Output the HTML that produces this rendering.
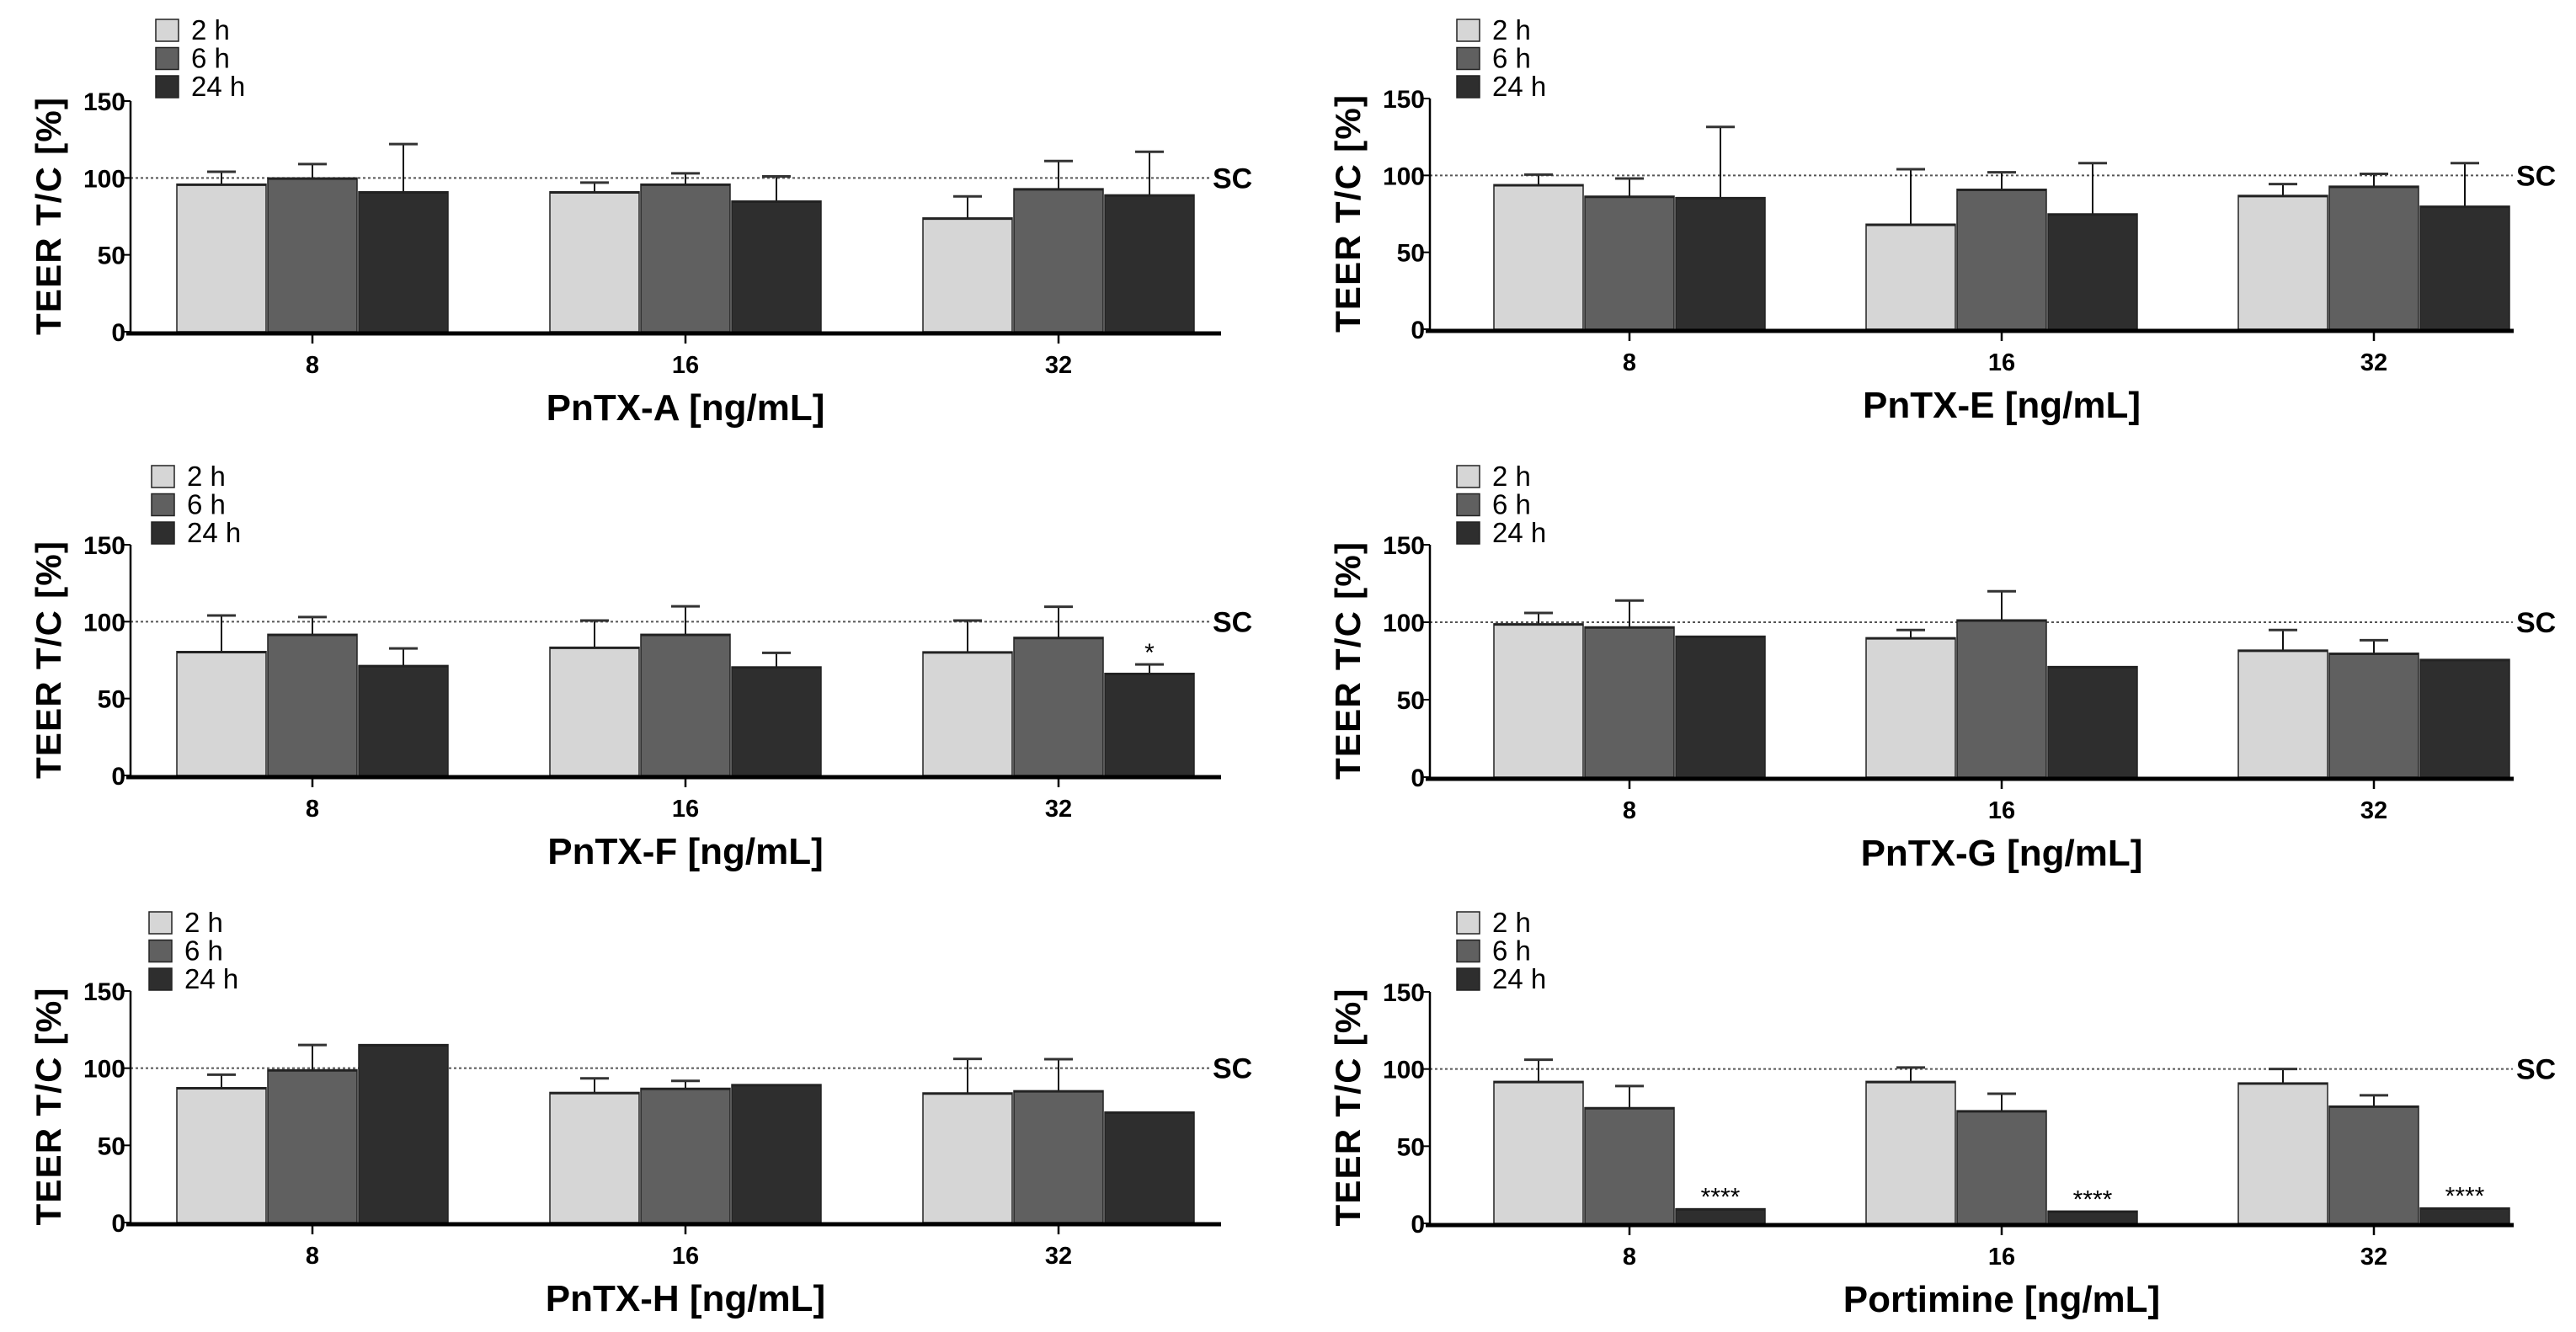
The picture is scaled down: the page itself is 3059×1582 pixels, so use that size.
<!DOCTYPE html>
<html><head><meta charset="utf-8"><style>
html,body{margin:0;padding:0;background:#fff;}
svg{display:block;}
</style></head><body>
<svg id="fig" width="3059" height="1582" viewBox="0 0 3059 1582" xmlns="http://www.w3.org/2000/svg"></svg>
<script>
// ---- data ----
const categories = ["8","16","32"];
const seriesNames = ["2 h","6 h","24 h"];
const yTicks = [0,50,100,150];
const panelTitles = ["PnTX-A [ng/mL]","PnTX-E [ng/mL]","PnTX-F [ng/mL]","PnTX-G [ng/mL]","PnTX-H [ng/mL]","Portimine [ng/mL]"];
const valsA = [[96,100,91],[91,96,85],[74,93,89]];
const errsA = [[104,109,122],[97,103,101],[88,111,117]];
const valsE = [[94,86.5,85.6],[68.3,91,75],[87,93,80]];
const errsE = [[100.5,98,131.5],[104,102,108],[94.4,101,108]];
const valsF = [[80.6,91.8,71.5],[83.4,91.8,70.6],[80.4,89.8,66.4]];
const errsF = [[104,103,82.6],[100.7,110,79.7],[100.7,109.7,72.2]];
const valsG = [[99,97,91],[90,101.5,71.4],[82,80,76]];
const errsG = [[106,114,null],[95,120,null],[95,88.4,null]];
const valsH = [[87.4,99,115.3],[84.3,87,89.4],[84,85.4,71.6]];
const errsH = [[95.8,115,null],[93.4,91.8,null],[106,105.8,null]];
const valsP = [[92,75,9.5],[92,73,8],[91,76,10]];
const errsP = [[106,89,null],[101,84,null],[100,83,null]];
const sigF = [["","",""],["","",""],["","","*"]];
const sigP = [["","","****"],["","","****"],["","","****"]];
const sigNone = [["","",""],["","",""],["","",""]];

const colors = ["#d6d6d6","#606060","#2e2e2e"];
const NS = "http://www.w3.org/2000/svg";
const svg = document.getElementById("fig");
function mk(tag, attrs, parent){const e=document.createElementNS(NS,tag);for(const k in attrs)e.setAttribute(k,attrs[k]);(parent||svg).appendChild(e);return e;}
function ctext(x,y,str,size,bold,anchor,parent){
  const t = mk("text",{x:x,y:y,"font-size":size,"font-weight":bold?"bold":"normal","text-anchor":anchor||"start","font-family":"Liberation Sans, sans-serif"},parent);
  t.textContent = str;
  return t;
}

const panels = [
 {vals:valsA,errs:errsA,sig:sigNone,ax:155,xend:1450,top:0,y0:394,y150:120,titleIdx:0,leg:185,ylab:72,sc:1440,t0:371,sp:443},
 {vals:valsE,errs:errsE,sig:sigNone,ax:1698,xend:2985,top:0,y0:391,y150:117,titleIdx:1,leg:1730,ylab:1615,sc:2988,t0:1935,sp:442},
 {vals:valsF,errs:errsF,sig:sigF,ax:155,xend:1450,top:530,y0:921,y150:647,titleIdx:2,leg:180,ylab:72,sc:1440,t0:371,sp:443},
 {vals:valsG,errs:errsG,sig:sigNone,ax:1698,xend:2985,top:530,y0:923,y150:647,titleIdx:3,leg:1730,ylab:1615,sc:2988,t0:1935,sp:442},
 {vals:valsH,errs:errsH,sig:sigNone,ax:155,xend:1450,top:1060,y0:1452,y150:1177,titleIdx:4,leg:177,ylab:72,sc:1440,t0:371,sp:443},
 {vals:valsP,errs:errsP,sig:sigP,ax:1698,xend:2985,top:1060,y0:1453,y150:1178,titleIdx:5,leg:1730,ylab:1615,sc:2988,t0:1935,sp:442}
];

panels.forEach((p,pi)=>{
  const g = mk("g",{});
  
  
  const yS = v => p.y0 - (p.y0-p.y150)*v/150;
  const xS = i => p.t0 + i*p.sp;
  const bw = 106, off = 108;
  const ref = mk("line",{x1:p.ax,x2:p.sc-4,y1:yS(100),y2:yS(100),stroke:"#555","stroke-width":2,"stroke-dasharray":"3 3"},g);
  
  
  const sc = ctext(p.sc,yS(100)+12,"SC",34,true,"start",g);
  
  
  categories.forEach((c,ci)=>{
    seriesNames.forEach((s,si)=>{
      const v = p.vals[ci][si];
      const cx = xS(ci) + (si-1)*off;
      const yt = yS(v);
      const e = p.errs[ci][si];
      if(e!==null && e!==undefined){
        const el = mk("line",{x1:cx,x2:cx,y1:yt,y2:yS(e),stroke:"#111","stroke-width":2},g);
        
        
        const cap = mk("line",{x1:cx-17,x2:cx+17,y1:yS(e),y2:yS(e),stroke:"#333","stroke-width":3},g);
        
        
      }
      const r = mk("rect",{x:cx-bw/2,y:yt,width:bw,height:p.y0-yt,fill:colors[si],stroke:"#222","stroke-width":1.5},g);
      
      
      mk("line",{x1:cx-bw/2,x2:cx+bw/2,y1:yt+1,y2:yt+1,stroke:"#222","stroke-width":2.5},g);
      const sg = p.sig[ci][si];
      if(sg){
        const top = (e!==null && e!==undefined) ? yS(e) : yt;
        const t = ctext(cx,top-4,sg,30,false,"middle",g);
        
        
      }
    });
    mk("line",{x1:xS(ci),x2:xS(ci),y1:p.y0,y2:p.y0+14,stroke:"#000","stroke-width":2.5},g);
    const cl = ctext(xS(ci),p.y0+49,c,29,true,"middle",g);
    
    
  });
  const ya = mk("line",{x1:p.ax,x2:p.ax,y1:p.y150,y2:p.y0,stroke:"#000","stroke-width":2.5},g);
  
  
  const xa = mk("line",{x1:p.ax-5,x2:p.xend,y1:p.y0+2,y2:p.y0+2,stroke:"#000","stroke-width":5},g);
  
  
  yTicks.forEach(t=>{
    mk("line",{x1:p.ax-8,x2:p.ax,y1:yS(t),y2:yS(t),stroke:"#000","stroke-width":2},g);
    const tl = ctext(p.ax-6,yS(t)+11,String(t),30,true,"end",g);
    
    
  });
  const yc = (p.y0+p.y150)/2;
  const yt = mk("text",{x:0,y:0,transform:"translate("+p.ylab+","+yc+") rotate(-90)","text-anchor":"middle","font-size":42,"font-weight":"bold","font-family":"Liberation Sans, sans-serif",textLength:282,lengthAdjust:"spacing"},g);
  yt.textContent="TEER T/C [%]";
  
  
  const xt = ctext(xS(1),p.y0+105,panelTitles[p.titleIdx],44,true,"middle",g);
  
  
  seriesNames.forEach((s,si)=>{
    const by = p.top + 23 + si*33.5;
    const lb = mk("rect",{x:p.leg,y:by,width:27,height:26,fill:colors[si],stroke:"#222","stroke-width":1.5},g);
    
    
    const lt = ctext(p.leg+42,by+24,s,33,false,"start",g);
    
    
  });
});
</script>
</body></html>
